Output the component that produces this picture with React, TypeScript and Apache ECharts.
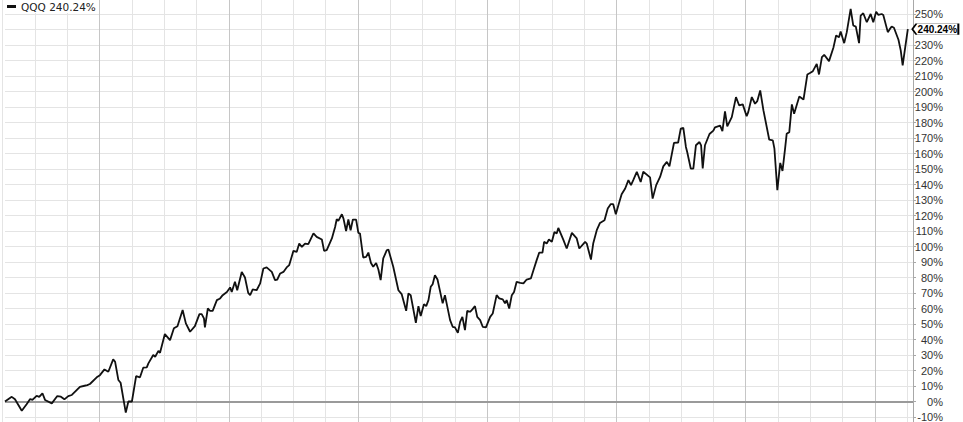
import React, { useEffect, useRef } from "react";
import * as echarts from "echarts";

// [month index, % change]
const qqqReturns: [number, number][] = [
  [-0.93, 0], [-0.72, 3], [-0.62, 1.4], [-0.41, -6], [-0.26, -1.8], [-0.15, 1.6], [-0.08, 1], [0.05, 3.7], [0.13, 3], [0.23, 5.3],
  [0.31, 1], [0.52, -1.2], [0.69, 3.5], [0.8, 3.1], [0.91, 1.4], [1.03, 3.5], [1.14, 4.2], [1.39, 9.5], [1.5, 10], [1.62, 10.6],
  [1.7, 11.3], [1.91, 15.6], [2.01, 17], [2.15, 20.7], [2.27, 19.2], [2.42, 27.2], [2.48, 25.6], [2.58, 13.9], [2.65, 12.1], [2.81, -7.2],
  [2.89, 0], [3.0, 0], [3.13, 16.4], [3.25, 15.6], [3.35, 21.8], [3.46, 22], [3.51, 24.6], [3.66, 30], [3.72, 28.9], [3.82, 32.7],
  [3.87, 31.4], [4.02, 43.5], [4.18, 39.6], [4.3, 47.2], [4.41, 48.6], [4.57, 59], [4.67, 50.4],
  [4.8, 45], [4.95, 48.6], [5.09, 56.4], [5.16, 56.4], [5.23, 53.6], [5.26, 47.8], [5.35, 60], [5.42, 58.5], [5.5, 58.5], [5.63, 65.4],
  [5.73, 66.5], [5.81, 68.6], [5.94, 70.7], [6.04, 73.6], [6.09, 70.7], [6.19, 77.2], [6.26, 71.8], [6.4, 83.6], [6.5, 80], [6.6, 70.1],
  [6.66, 68.6], [6.74, 72.3], [6.86, 71.8], [6.97, 76.2], [7.07, 85.8], [7.17, 86.5], [7.33, 83.6], [7.43, 78.3], [7.5, 78.7], [7.59, 82.6],
  [7.69, 83.6], [7.79, 86.5], [7.87, 88], [8.0, 97.2], [8.1, 96.5], [8.18, 101.9], [8.26, 99.7], [8.36, 101.9], [8.46, 101.5], [8.62, 108.4],
  [8.72, 106.2], [8.88, 104.5], [8.95, 97.2], [9.03, 97.6], [9.19, 105.2], [9.29, 112.6], [9.34, 117.6], [9.39, 116.5], [9.5, 120.8], [9.55, 118],
  [9.63, 110], [9.7, 117.4], [9.77, 110.5], [9.84, 117.4], [9.94, 117.4], [10.01, 108.8], [10.06, 108.4], [10.16, 92.9], [10.25, 93.3], [10.32, 96.1],
  [10.4, 89.4], [10.47, 86.9], [10.56, 89.4], [10.63, 85.2], [10.7, 78.3], [10.78, 92.3], [10.89, 97.6], [10.94, 98.1], [11.09, 86.9], [11.25, 71.8],
  [11.35, 69.3], [11.49, 58.5], [11.56, 69.7], [11.63, 68.6], [11.79, 50.8], [11.87, 61.5], [11.94, 55.1], [12.04, 62.8], [12.11, 61.5], [12.18, 65.4],
  [12.25, 74], [12.31, 75.7], [12.38, 81.5], [12.46, 78.7], [12.62, 63.3], [12.69, 68.6], [12.85, 52.5], [12.93, 48.2], [13.0, 47.8], [13.09, 44.3],
  [13.16, 51.4], [13.23, 54.6], [13.31, 46.1], [13.38, 58.5], [13.47, 57.9], [13.54, 59.4], [13.62, 61.5], [13.69, 54.6], [13.78, 52.5], [13.86, 48.2],
  [13.96, 47.8], [14.09, 54.6], [14.17, 56.8], [14.29, 68.6], [14.37, 66.5], [14.48, 65.9], [14.55, 63.3], [14.6, 65.4], [14.68, 60], [14.76, 68.6],
  [14.83, 70.7], [14.91, 77.2], [15.02, 76.5], [15.12, 76.2], [15.22, 78.7], [15.35, 79.4], [15.43, 84.7], [15.53, 91.2], [15.61, 96.1], [15.71, 96.1],
  [15.76, 103], [15.84, 101.9], [15.91, 104.5], [16.0, 103], [16.08, 109.4], [16.15, 108.4], [16.2, 112], [16.36, 104.1], [16.46, 98.7], [16.62, 108.8],
  [16.77, 105.2], [16.85, 98.7], [17.03, 103], [17.08, 101.9], [17.21, 91.6], [17.28, 101.9], [17.39, 110.5], [17.49, 115.2], [17.63, 116.9], [17.73, 124.5],
  [17.82, 127.3], [17.9, 127.3], [17.98, 120.8], [18.06, 126.6], [18.16, 133.7], [18.27, 137.4], [18.37, 142.8], [18.45, 139.6], [18.52, 142.8], [18.63, 148.2],
  [18.75, 141.6], [18.83, 148.2], [19.04, 144.6], [19.12, 130.9], [19.23, 139.6], [19.35, 144.9], [19.45, 151.7], [19.56, 154.6], [19.64, 151.7], [19.78, 166.8],
  [19.91, 167.1], [19.99, 176.1], [20.07, 176.5], [20.15, 164.2], [20.19, 161], [20.3, 150.3], [20.38, 150.3], [20.46, 165.3], [20.57, 167.4], [20.62, 165.3],
  [20.67, 150.3], [20.74, 165.3], [20.88, 172.6], [21.0, 174.8], [21.05, 176.9], [21.21, 178], [21.28, 174.4], [21.36, 187.2], [21.43, 177.5], [21.57, 183.5],
  [21.7, 196.4], [21.8, 191], [21.91, 191.7], [22.03, 184], [22.08, 186.7], [22.19, 196.4], [22.29, 192.1], [22.36, 193.8], [22.45, 200.7], [22.55, 187.8],
  [22.73, 168.9], [22.84, 168.5], [22.89, 163.1], [22.98, 136.3], [23.07, 153.9], [23.14, 148.7], [23.22, 163.1], [23.27, 172.8], [23.35, 173.8], [23.43, 191.7],
  [23.5, 185.7], [23.66, 196.8], [23.79, 194.8], [23.91, 211], [23.99, 211.9], [24.08, 213.1], [24.2, 217.8], [24.27, 211], [24.36, 222.2], [24.43, 223.7],
  [24.58, 219.6], [24.72, 228.6], [24.8, 236.1], [24.89, 235], [24.94, 238.7], [25.05, 231.2], [25.13, 238.3], [25.25, 253.3], [25.33, 242.6], [25.41, 241.9],
  [25.51, 231.2], [25.56, 249], [25.64, 250.5], [25.75, 244.7], [25.87, 250], [25.95, 244.7], [26.04, 251.5], [26.11, 249.4], [26.21, 250], [26.26, 249.4],
  [26.4, 238.3], [26.45, 239.9], [26.52, 241.9], [26.59, 241.1], [26.73, 233.4], [26.8, 226.5], [26.86, 216.8], [26.94, 228.6], [27.02, 240.24],
];

const seriesName = "QQQ";
const yMin = -20;
const yMax = 260;
const yStep = 10;
const xMin = -0.929; // months, left edge of the plot
const xMax = 27.18; // months, right edge of the plot
const quarterStart = 2; // first darker month line

export default function App() {
  const ref = useRef<HTMLDivElement>(null);
  useEffect(() => {
    if (!ref.current) return;
    const chart = echarts.init(ref.current, undefined, { renderer: "svg" });
    const last = qqqReturns[qqqReturns.length - 1];
    const lastLabel = last[1].toFixed(2) + "%";
    const plotLeft = 5;
    const plotRight = 50;
    const plotW = 963 - plotLeft - plotRight;
    const pxPerMonth = plotW / (xMax - xMin);
    const monthLeft = plotLeft + (Math.ceil(xMin) - 1 - xMin) * pxPerMonth;
    const quarterLeft = plotLeft + (quarterStart - xMin) * pxPerMonth;
    const top = 0.5;
    const height = 434;
    const hiddenAxis = {
      axisLine: { show: false, onZero: false },
      axisTick: { show: false },
      axisLabel: { show: false },
    };
    chart.setOption({
      animation: false,
      backgroundColor: "#ffffff",
      grid: [
        { left: plotLeft, right: plotRight, top, height },
        { left: monthLeft, right: plotRight, top, height },
        { left: quarterLeft, right: plotRight, top, height },
      ],
      legend: {
        left: 5,
        top: 2,
        padding: [1, 2, 1, 2],
        backgroundColor: "#ffffff",
        icon: "rect",
        itemWidth: 9,
        itemHeight: 3,
        data: [seriesName],
        formatter: (n: string) => n + " " + lastLabel,
        textStyle: { fontFamily: "DejaVu Sans", fontSize: 10.5, color: "#222" },
        z: 10,
      },
      xAxis: [
        { type: "value", gridIndex: 0, min: xMin, max: xMax, ...hiddenAxis, splitLine: { show: false } },
        {
          type: "value",
          gridIndex: 1,
          min: 0,
          max: (963 - plotRight - monthLeft) / pxPerMonth,
          interval: 1,
          ...hiddenAxis,
          splitLine: { show: true, lineStyle: { color: "#e4e4e4", width: 1 } },
        },
        {
          type: "value",
          gridIndex: 2,
          min: 0,
          max: (963 - plotRight - quarterLeft) / pxPerMonth,
          interval: 4,
          ...hiddenAxis,
          splitLine: { show: true, showMaxLine: false, lineStyle: { color: "#c6c6c6", width: 1 } },
        },
      ],
      yAxis: [
        {
          type: "value",
          gridIndex: 0,
          position: "right",
          min: yMin,
          max: yMax,
          interval: yStep,
          axisLine: { show: true, onZero: false, lineStyle: { color: "#a8a8a8" } },
          axisTick: { show: true, length: 3, lineStyle: { color: "#a8a8a8" } },
          axisLabel: {
            show: true,
            margin: 30,
            align: "right",
            fontFamily: "Liberation Sans, Arial, sans-serif",
            fontSize: 11,
            color: "#333",
            formatter: (v: number) =>
              v === yMax || v === yMin || Math.abs(v - last[1]) < 5 ? "" : v + "%",
          },
          splitLine: { show: true, lineStyle: { color: "#e4e4e4", width: 1 } },
        },
        { type: "value", gridIndex: 1, min: 0, max: 1, ...hiddenAxis, splitLine: { show: false } },
        { type: "value", gridIndex: 2, min: 0, max: 1, ...hiddenAxis, splitLine: { show: false } },
      ],
      series: [
        {
          name: seriesName,
          type: "line",
          xAxisIndex: 0,
          yAxisIndex: 0,
          data: qqqReturns,
          symbol: "none",
          showSymbol: false,
          lineStyle: { color: "#111", width: 1.8 },
          itemStyle: { color: "#111" },
          z: 5,
          markLine: {
            silent: true,
            symbol: "none",
            label: { show: false },
            lineStyle: { color: "#9a9a9a", width: 2, type: "solid" },
            data: [{ yAxis: 0 }],
            z: 2,
          },
          markPoint: {
            silent: true,
            symbol: "path://M0,5.5 L4,0 L46,0 L46,11 L4,11 Z",
            symbolSize: [46, 11],
            symbolKeepAspect: false,
            symbolOffset: [27.5, 0],
            itemStyle: { color: "#ffffff", borderColor: "#000", borderWidth: 1 },
            label: {
              show: true,
              position: "inside",
              offset: [2, 0],
              formatter: lastLabel,
              color: "#000",
              fontWeight: "bold",
              fontFamily: "Liberation Sans, Arial, sans-serif",
              fontSize: 10,
            },
            data: [{ coord: [last[0], last[1]] }],
          },
        },
      ],
    });
    return () => chart.dispose();
  }, []);
  return (
    <div style={{ position: "fixed", left: 0, top: 0, width: 963, height: 422, overflow: "hidden", background: "#fff" }}>
      <div ref={ref} style={{ position: "absolute", left: 0, top: -2, width: 963, height: 440 }} />
    </div>
  );
}
